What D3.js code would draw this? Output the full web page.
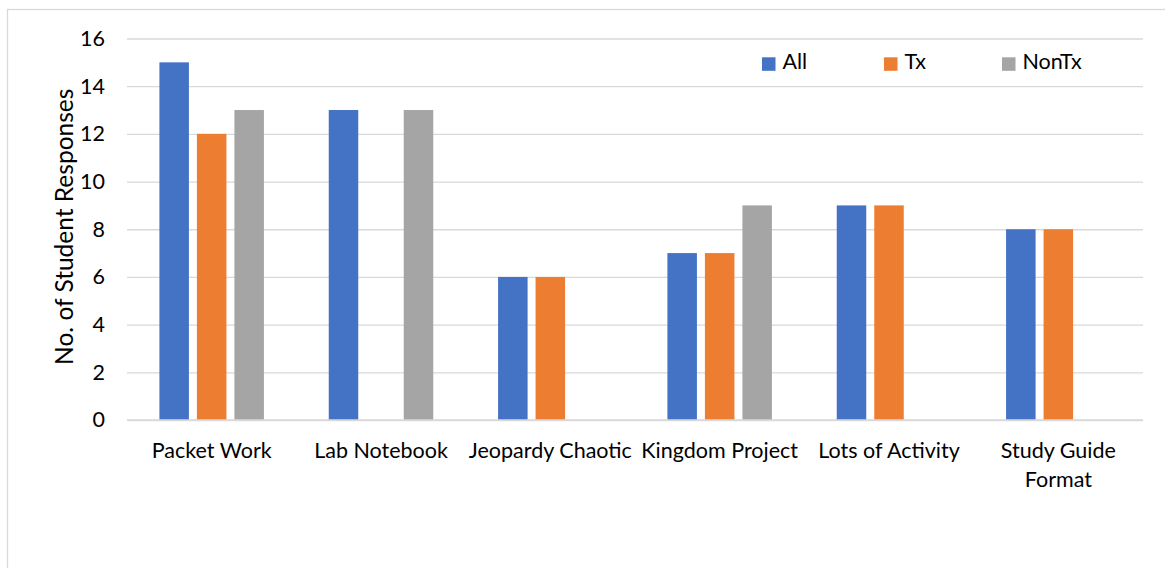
<!DOCTYPE html>
<html><head><meta charset="utf-8">
<script src="https://cdn.jsdelivr.net/npm/d3@7"></script>
<style>
html,body{margin:0;padding:0;background:#fff;}
svg{display:block;}
text{font-family:Lato, "Open Sans", sans-serif; fill:#000;}
</style></head>
<body>
<svg id="chart" width="1165" height="568"></svg>
<script>
const categories = ["Packet Work", "Lab Notebook", "Jeopardy Chaotic", "Kingdom Project", "Lots of Activity", "Study Guide Format"];
const seriesNames = ["All", "Tx", "NonTx"];
const allValues = [15, 13, 6, 7, 9, 8];
const txValues = [12, 0, 6, 7, 9, 8];
const nonTxValues = [13, 13, 0, 9, 0, 0];
const yTicks = [0, 2, 4, 6, 8, 10, 12, 14, 16];
const colors = ["#4472C4", "#ED7D31", "#A5A5A5"];
const yTitle = "No. of Student Responses";

const seriesValues = [allValues, txValues, nonTxValues];
const svg = d3.select("#chart");
const W = 1165, H = 568;
svg.append("rect").attr("width", W).attr("height", H).attr("fill", "#fff");
// outer chart border
svg.append("rect").attr("x", 7.5).attr("y", 9.5).attr("width", W + 20).attr("height", H + 20)
  .attr("fill", "none").attr("stroke", "#D9D9D9").attr("stroke-width", 1.3);

const plot = {left: 127, right: 1143, top: 38.5, bottom: 420};
const x0 = d3.scaleBand().domain(categories).range([plot.left, plot.right]).paddingInner(0).paddingOuter(0);
const groupW = 104.5;
const x1 = d3.scaleBand().domain(seriesNames).range([0, groupW]).paddingInner(8 / 37.5).paddingOuter(0);
const y = d3.scaleLinear().domain([0, 16]).range([plot.bottom, plot.top]);

// gridlines
const yAxis = d3.axisLeft(y).tickValues(yTicks).tickSize(-(plot.right - plot.left)).tickPadding(22).tickFormat(d3.format("d"));
const gy = svg.append("g").attr("transform", `translate(${plot.left},0)`).call(yAxis);
gy.select(".domain").remove();
gy.selectAll(".tick line").attr("stroke", "#D9D9D9").attr("stroke-width", 1.3);
gy.selectAll(".tick text").attr("font-size", 21.5).attr("fill", "#000").style("font-family", "Lato");

// bars
const data = [];
categories.forEach((c, i) => seriesNames.forEach((s, j) => data.push({c, s, v: seriesValues[j][i], j})));
svg.append("g").selectAll("rect").data(data.filter(d => d.v > 0)).join("rect")
  .attr("x", d => x0(d.c) + (x0.bandwidth() - groupW) / 2 + x1(d.s))
  .attr("y", d => y(d.v))
  .attr("width", x1.bandwidth())
  .attr("height", d => y(0) - y(d.v))
  .attr("fill", d => colors[d.j]);

// baseline
svg.append("line").attr("x1", plot.left).attr("x2", plot.right).attr("y1", y(0)).attr("y2", y(0))
  .attr("stroke", "#D9D9D9").attr("stroke-width", 1.3);

// category labels (wrapped)
const xAxis = d3.axisBottom(x0).tickSize(0).tickPadding(0);
const gx = svg.append("g").attr("transform", `translate(0,${plot.bottom})`).call(xAxis);
gx.select(".domain").remove();
gx.selectAll(".tick text").each(function(d) {
  const t = d3.select(this);
  t.text(null).attr("font-size", 21.5).attr("fill", "#000").attr("dy", null).attr("y", 0);
  const words = d.split(" ");
  let lines = [], cur = [];
  words.forEach(w => {
    const trial = cur.concat([w]).join(" ");
    const tmp = t.append("tspan").text(trial);
    const wd = tmp.node().getComputedTextLength();
    tmp.remove();
    if (wd > 175 && cur.length) { lines.push(cur.join(" ")); cur = [w]; } else cur.push(w);
  });
  lines.push(cur.join(" "));
  lines.forEach((ln, k) => t.append("tspan").attr("x", 0).attr("y", 37.7 + k * 29.6).text(ln));
});

// y axis title
svg.append("text").attr("transform", `translate(72.5,${(plot.top + plot.bottom) / 2 - 2.5}) rotate(-90)`)
  .attr("text-anchor", "middle").attr("font-size", 24.5).text(yTitle);

// legend
const legX = [762, 884, 1002];
const lg = svg.append("g").selectAll("g").data(seriesNames).join("g")
  .attr("transform", (d, i) => `translate(${legX[i]},57.3)`);
lg.append("rect").attr("width", 13.5).attr("height", 13.5).attr("fill", (d, i) => colors[i]);
lg.append("text").attr("x", 20.5).attr("y", 12).attr("font-size", 21.5).text(d => d);
</script>
</body></html>
